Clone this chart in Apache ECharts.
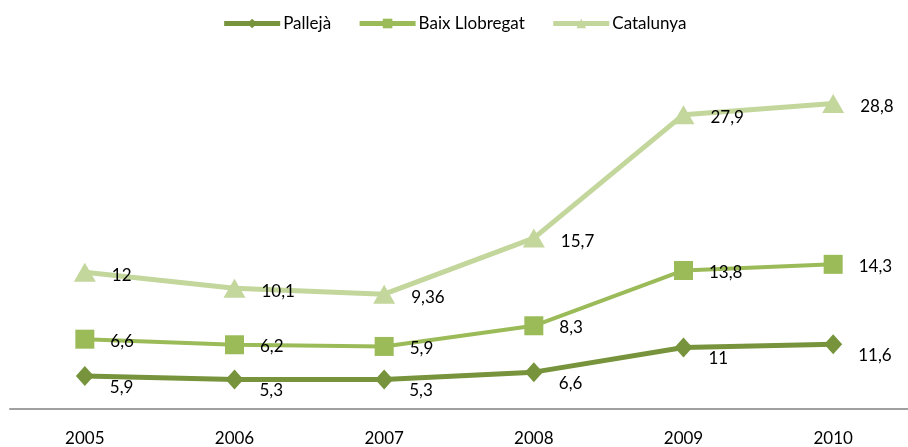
<!DOCTYPE html>
<html>
<head>
    <meta charset="utf-8">
    <title>Pallejà - Baix Llobregat - Catalunya</title>
    <script src="https://cdn.jsdelivr.net/npm/echarts@6/dist/echarts.min.js"></script>
    <style>
        html, body { margin: 0; padding: 0; background: #fff; }
        #main { width: 908px; height: 447px; }
    </style>
</head>
<body>
<div id="main"></div>
<script>
    // dades
    const years = ['2005', '2006', '2007', '2008', '2009', '2010'];
    const palleja = [5.9, 5.3, 5.3, 6.6, 11, 11.6];
    const baixLlobregat = [6.6, 6.2, 5.9, 8.3, 13.8, 14.3];
    const catalunya = [12, 10.1, 9.36, 15.7, 27.9, 28.8];

    const font = 'Lato, "Open Sans", sans-serif';
    const fmt = p => String(p.value).replace('.', ',');

    const myChart = echarts.init(document.getElementById('main'));

    function makeSeries(name, data, color, symbol, symbolSize, width, offset) {
        return {
            name,
            type: 'line',
            stack: 'total',
            data,
            symbol,
            symbolSize,
            color,
            lineStyle: { color, width },
            itemStyle: { color },
            label: {
                show: true,
                position: 'right',
                distance: 16,
                offset,
                color: '#000',
                fontFamily: font,
                fontSize: 17,
                formatter: fmt
            },
            emphasis: { disabled: true }
        };
    }

    const option = {
        animation: false,
        textStyle: { fontFamily: font },
        legend: {
            top: 10,
            left: 'center',
            itemWidth: 56,
            itemHeight: 12,
            itemGap: 26,
            lineStyle: { width: 5 },
            textStyle: { fontFamily: font, fontSize: 17, color: '#000', padding: [0, 0, 0, -2] },
            data: ['Pallejà', 'Baix Llobregat', 'Catalunya']
        },
        grid: {
            left: 10,
            right: 0,
            top: 18,
            bottom: 37
        },
        xAxis: {
            type: 'category',
            data: years,
            axisLine: { lineStyle: { color: '#a0a0a0', width: 2 } },
            axisTick: { show: false },
            axisLabel: {
                margin: 21,
                color: '#000',
                fontFamily: font,
                fontSize: 17
            }
        },
        yAxis: {
            type: 'value',
            min: 0,
            max: 70,
            show: false,
            splitLine: { show: false }
        },
        series: [
            makeSeries('Pallejà', palleja, '#77933C', 'diamond', [18, 20], 5, [0, 11]),
            makeSeries('Baix Llobregat', baixLlobregat, '#9BBB59', 'rect', 19, 4, [0, 2]),
            makeSeries('Catalunya', catalunya, '#C3D69B', 'triangle', [22, 19], 5, [0, 3])
        ]
    };

    myChart.setOption(option);
</script>
</body>
</html>
